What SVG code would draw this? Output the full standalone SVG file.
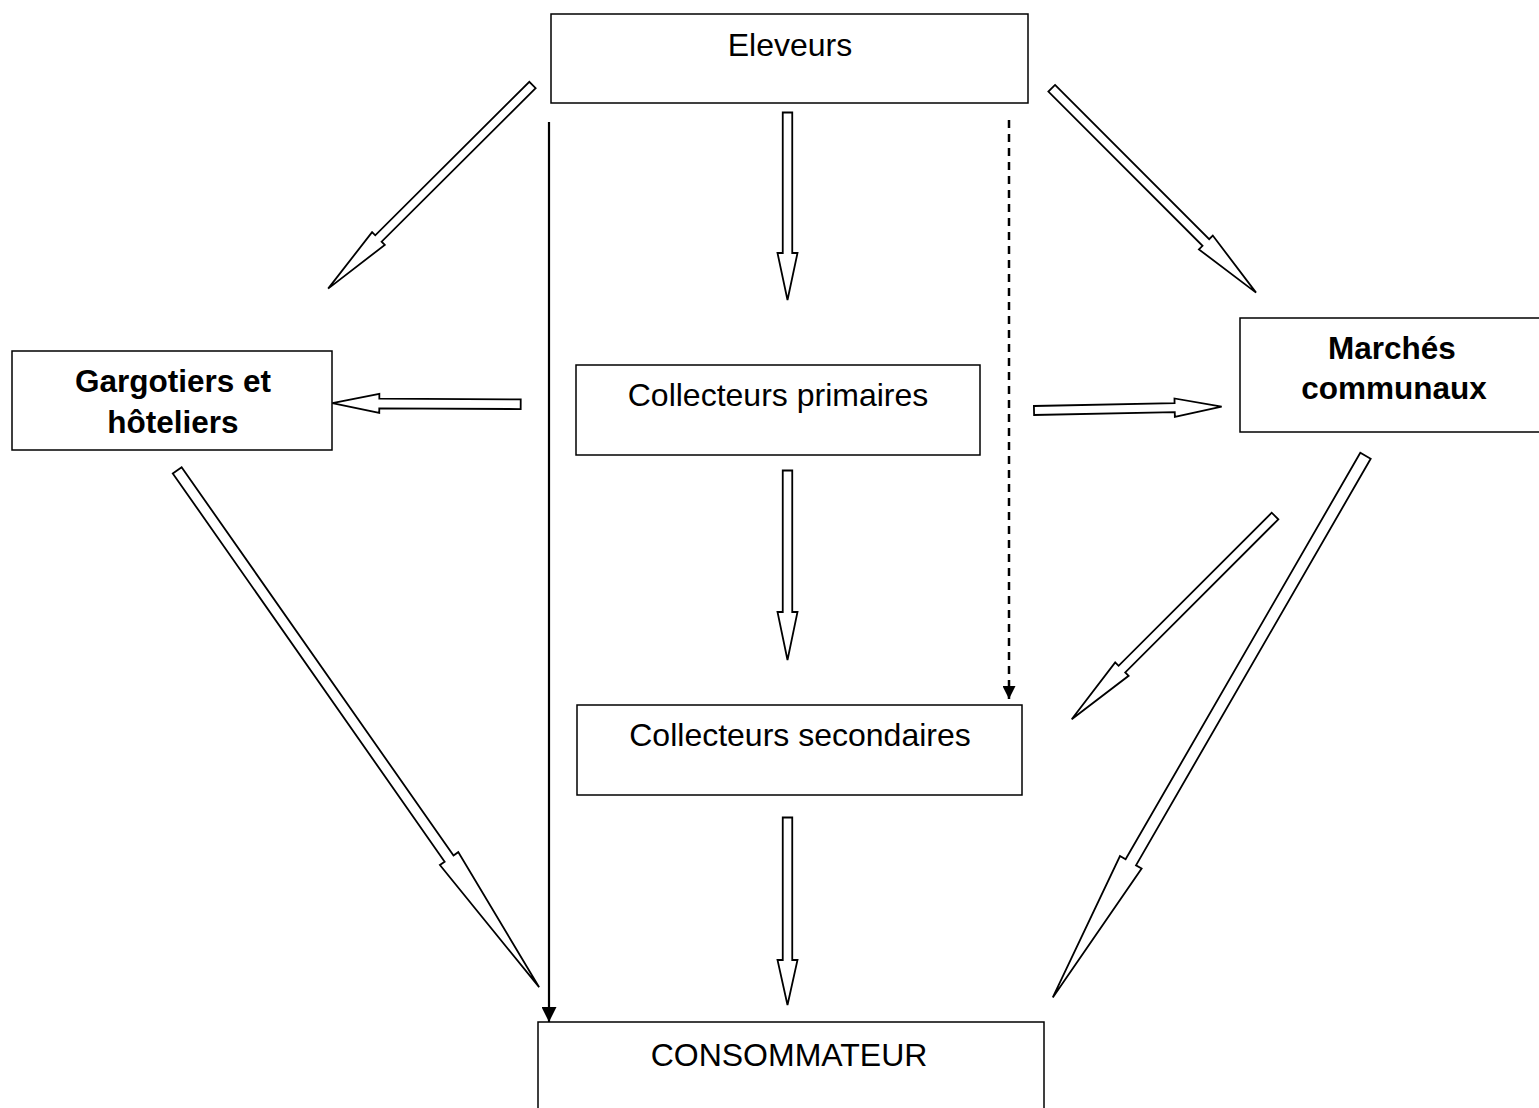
<svg xmlns="http://www.w3.org/2000/svg" width="1539" height="1108" viewBox="0 0 1539 1108">
<style>
.box{fill:#fff;stroke:#000;stroke-width:1.5}
.t{font-family:"Liberation Sans",Arial,sans-serif;font-size:32px;fill:#000;text-anchor:middle}
.b{font-weight:bold;font-size:31.5px}
.ba{fill:#fff;stroke:#000;stroke-width:1.8;stroke-linejoin:miter}
.ln{fill:none;stroke:#000;stroke-width:2.2}
.dash{stroke-dasharray:8 6;stroke-width:2.5}
</style>
<defs>
<marker id="ah" viewBox="0 0 10 10" refX="10" refY="5" markerWidth="15" markerHeight="15" markerUnits="userSpaceOnUse" orient="auto">
<path d="M0,0 L10,5 L0,10 Z" fill="#000"/>
</marker>
<marker id="ah2" viewBox="0 0 10 10" refX="10" refY="5" markerWidth="14" markerHeight="13" markerUnits="userSpaceOnUse" orient="auto">
<path d="M0,0 L10,5 L0,10 Z" fill="#000"/>
</marker>
</defs>
<rect width="1539" height="1108" fill="#fff"/>

<g id="connectors">
<polygon id="a1" class="ba" transform="translate(532.5 85) rotate(135.1)" points="0,-4.5 217.5,-4.5 217.5,-9 288.5,0 217.5,9 217.5,4.5 0,4.5"/>
<polygon id="a2" class="ba" transform="translate(787.5 112.5) rotate(90)" points="0,-4.75 140.5,-4.75 140.5,-10 187.5,0 140.5,10 140.5,4.75 0,4.75"/>
<polygon id="a3" class="ba" transform="translate(787.5 470.5) rotate(90)" points="0,-4.75 141.5,-4.75 141.5,-10 189.5,0 141.5,10 141.5,4.75 0,4.75"/>
<polygon id="a4" class="ba" transform="translate(787.5 817.5) rotate(90)" points="0,-4.75 142.5,-4.75 142.5,-10 187.5,0 142.5,10 142.5,4.75 0,4.75"/>
<polygon id="a5" class="ba" transform="translate(520.7 404.2) rotate(180.3)" points="0,-4.85 141.4,-4.85 141.4,-9.5 188.4,0 141.4,9.5 141.4,4.85 0,4.85"/>
<polygon id="a6" class="ba" transform="translate(1034 410.5) rotate(-1.16)" points="0,-4.5 140.7,-4.5 140.7,-9.2 187.7,0 140.7,9.2 140.7,4.5 0,4.5"/>
<polygon id="a7" class="ba" transform="translate(1051.7 88.3) rotate(45)" points="0,-4.7 218,-4.7 218,-9.8 289,0 218,9.8 218,4.7 0,4.7"/>
<polygon id="a8" class="ba" transform="translate(177.2 470.3) rotate(55)" points="0,-5.4 474,-5.4 474,-11.2 631,0 474,11.2 474,5.4 0,5.4"/>
<polygon id="a9" class="ba" transform="translate(1275 516) rotate(135)" points="0,-4.7 216.5,-4.7 216.5,-9.5 287.5,0 216.5,9.5 216.5,4.7 0,4.7"/>
<polygon id="a10" class="ba" transform="translate(1365.5 455.8) rotate(120)" points="0,-6 469.4,-6 469.4,-12.5 625.4,0 469.4,12.5 469.4,6 0,6"/>
<line id="l1" class="ln" x1="549" y1="122" x2="549" y2="1022" marker-end="url(#ah)"/>
<line id="l2" class="ln dash" x1="1009" y1="120" x2="1009" y2="699" marker-end="url(#ah2)"/>
</g>

<g id="eleveurs">
<rect class="box" x="551" y="14" width="477" height="89"/>
<text class="t" x="790" y="56">Eleveurs</text>
</g>
<g id="gargotiers">
<rect class="box" x="12" y="351" width="320" height="99"/>
<text class="t b" x="173" y="392">Gargotiers et</text>
<text class="t b" x="173" y="433">hôteliers</text>
</g>
<g id="collecteurs-primaires">
<rect class="box" x="576" y="365" width="404" height="90"/>
<text class="t" x="778" y="406">Collecteurs primaires</text>
</g>
<g id="marches">
<rect class="box" x="1240" y="318" width="310" height="114"/>
<text class="t b" x="1392" y="359">Marchés</text>
<text class="t b" x="1394" y="399">communaux</text>
</g>
<g id="collecteurs-secondaires">
<rect class="box" x="577" y="705" width="445" height="90"/>
<text class="t" x="800" y="746">Collecteurs secondaires</text>
</g>
<g id="consommateur">
<rect class="box" x="538" y="1022" width="506" height="100"/>
<text class="t" x="789" y="1066">CONSOMMATEUR</text>
</g>
</svg>
